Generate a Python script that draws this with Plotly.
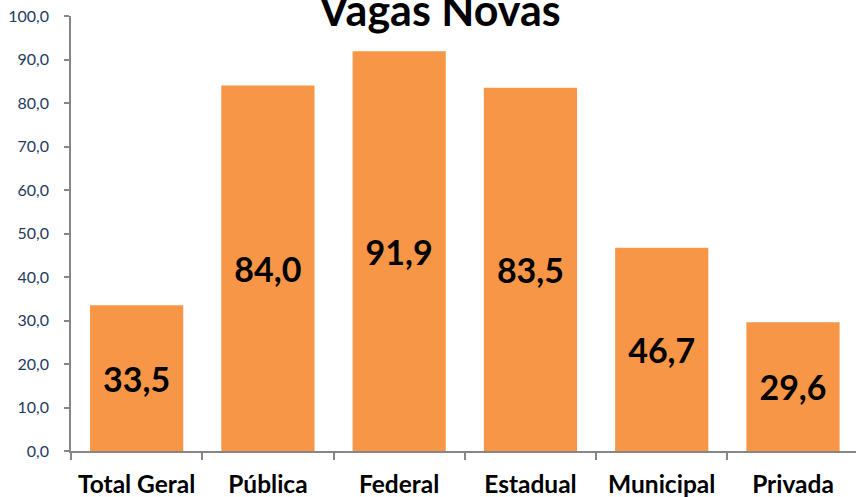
import plotly.graph_objects as go

categories = ["Total Geral", "Pública", "Federal", "Estadual", "Municipal", "Privada"]
values = [33.5, 84.0, 91.9, 83.5, 46.7, 29.6]
labels = ["33,5", "84,0", "91,9", "83,5", "46,7", "29,6"]
y_ticks = [0, 10, 20, 30, 40, 50, 60, 70, 80, 90, 100]
title_text = "Vagas Novas"

FONT = "Lato, 'Open Sans', sans-serif"

fig = go.Figure(go.Bar(
    x=categories, y=values, text=labels,
    textposition="inside", insidetextanchor="middle", textangle=0,
    textfont=dict(family=FONT, size=34, color="black", weight="bold"),
    marker=dict(color="#F79646", line=dict(width=0)),
    cliponaxis=False,
))

fig.update_layout(
    width=856, height=497,
    margin=dict(l=71, r=0, t=16, b=46, autoexpand=False),
    paper_bgcolor="white", plot_bgcolor="white",
    separators=",.",
    bargap=0.29,
    showlegend=False,
)
fig.add_annotation(
    text="<b>" + title_text + "</b>", xref="paper", yref="paper",
    x=(439 - 71) / 785, y=(451 - 10) / 435, xanchor="center", yanchor="middle",
    showarrow=False, font=dict(family=FONT, size=43, color="black"),
)

fig.update_xaxes(
    range=[-0.5, 5.48], automargin=False,
    showline=True, linecolor="#868686", linewidth=1.5,
    ticks="outside", tickson="boundaries", ticklen=7, tickcolor="#868686", tickwidth=1.5,
    tickfont=dict(family=FONT, size=24.5, color="black", weight="bold"),
    ticklabelstandoff=11,
    showgrid=False,
)
fig.update_yaxes(
    range=[0, 100], automargin=False,
    tickvals=y_ticks, tickformat=".1f",
    showline=True, linecolor="#868686", linewidth=1.5,
    ticks="outside", ticklen=5, tickcolor="#868686", tickwidth=1.5,
    tickfont=dict(family=FONT, size=16, color="#1F3A5F"),
    ticklabelstandoff=12,
    showgrid=False, zeroline=False,
)

fig.write_html("out.html", config={"displayModeBar": False},
               post_script="document.body.style.margin='0';document.body.style.overflow='hidden';")
